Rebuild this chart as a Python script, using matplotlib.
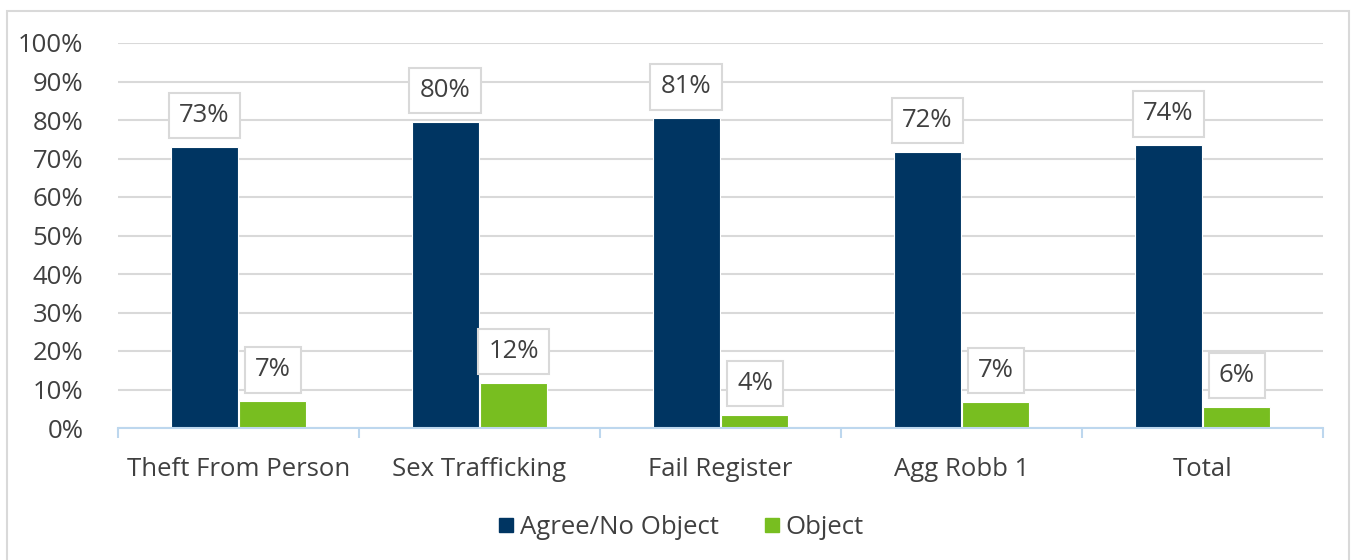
import matplotlib
matplotlib.use("Agg")
import matplotlib.pyplot as plt
import numpy as np
from matplotlib.patches import Rectangle
from matplotlib.lines import Line2D

categories = ["Theft From Person", "Sex Trafficking", "Fail Register", "Agg Robb 1", "Total"]
agree = [0.73, 0.795, 0.805, 0.717, 0.735]
agree_labels = ["73%", "80%", "81%", "72%", "74%"]
obj = [0.07, 0.117, 0.034, 0.068, 0.055]
obj_labels = ["7%", "12%", "4%", "7%", "6%"]
series_names = ["Agree/No Object", "Object"]
yticks = [0, 0.1, 0.2, 0.3, 0.4, 0.5, 0.6, 0.7, 0.8, 0.9, 1.0]
ytick_labels = ["0%", "10%", "20%", "30%", "40%", "50%", "60%", "70%", "80%", "90%", "100%"]

BLUE = "#003562"
GREEN = "#78BE20"
TXT = "#404040"
GRID = "#D9D9D9"
AXIS = "#BDD7EE"

plt.rcParams['font.family'] = ['Open Sans', 'DejaVu Sans']

fig = plt.figure(figsize=(13.53, 5.6), dpi=100)
W, H = 1353, 560
ax = fig.add_axes([118 / W, 1 - 428 / H, (1323 - 118) / W, (428 - 43) / H])

# outer border
fig.patches.append(Rectangle((7 / W, -0.02), (1349 - 7) / W, (549 / H) + 0.02,
                             transform=fig.transFigure, fill=False, edgecolor="#D9D9D9",
                             linewidth=1.5, zorder=0))

x = np.arange(len(categories))
bw = 0.278
gap = 0.004
b1 = ax.bar(x - bw / 2 - gap, agree, bw, color=BLUE, zorder=3, edgecolor="white", linewidth=0.8)
b2 = ax.bar(x + bw / 2 + gap, obj, bw, color=GREEN, zorder=3, edgecolor="white", linewidth=0.8)

fs = 18.5
for rects, labs in ((b1, agree_labels), (b2, obj_labels)):
    for r, lab in zip(rects, labs):
        ax.annotate(lab, (r.get_x() + r.get_width() / 2, r.get_height()),
                    xytext=(0, 22.5), textcoords="offset points", ha="center", va="center",
                    fontsize=fs, color=TXT, zorder=5,
                    bbox=dict(boxstyle="square,pad=0.4", fc="white", ec=GRID, lw=1.5))

ax.set_xlim(-0.5, len(categories) - 0.5)
ax.set_ylim(0, 1.0)
ax.set_yticks(yticks)
ax.set_yticklabels(ytick_labels)
ax.yaxis.grid(True, color=GRID, linewidth=1.5, zorder=0)
ax.set_axisbelow(True)
for s in ("top", "right", "left"):
    ax.spines[s].set_visible(False)
ax.spines["bottom"].set_color(AXIS)
ax.spines["bottom"].set_linewidth(1.5)
ax.spines["bottom"].set_zorder(4)

ax.set_xticks(x)
ax.set_xticklabels(categories)
ax.set_xticks(np.arange(-0.5, len(categories)), minor=True)
ax.tick_params(axis="x", which="major", length=0, pad=21, labelsize=fs, labelcolor=TXT)
ax.tick_params(axis="x", which="minor", length=7, width=1.5, color=AXIS, direction="out")
ax.tick_params(axis="y", length=0, pad=25, labelsize=fs, labelcolor=TXT)

handles = [Line2D([], [], marker="s", linestyle="none", markersize=10, color=c) for c in (BLUE, GREEN)]
fig.legend(handles, series_names, loc="center", bbox_to_anchor=(0.502, 1 - 527 / H), ncol=2,
           frameon=False, fontsize=fs, labelcolor=TXT, handletextpad=0.1, columnspacing=1.6,
           handlelength=0.9)

fig.savefig("out.png", dpi=100)
